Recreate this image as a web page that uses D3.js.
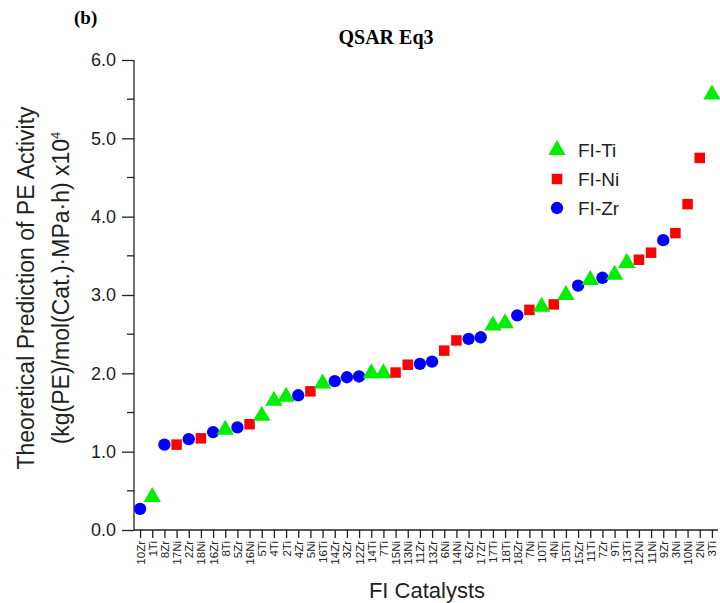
<!DOCTYPE html>
<html>
<head>
<meta charset="utf-8">
<script src="https://cdn.jsdelivr.net/npm/d3@7"></script>
<style>
  body { margin: 0; background: #fff; }
  svg { display: block; }
  .axis text { font-family: "Liberation Sans", Arial, sans-serif; }
</style>
</head>
<body>
<svg width="720" height="603"></svg>
<script>
// catalysts in the order they are plotted (sorted by predicted activity)
var catalysts = ["10Zr","1Ti","8Zr","17Ni","2Zr","18Ni","16Zr","8Ti","5Zr","16Ni",
  "5Ti","4Ti","2Ti","4Zr","5Ni","16Ti","14Zr","3Zr","12Zr","14Ti",
  "7Ti","15Ni","13Ni","11Zr","13Zr","6Ni","14Ni","6Zr","17Zr","17Ti",
  "18Ti","18Zr","7Ni","10Ti","4Ni","15Ti","15Zr","11Ti","7Zr","9Ti",
  "13Ti","12Ni","11Ni","9Zr","3Ni","10Ni","2Ni","3Ti"]

// predicted PE activity (x10^4), same order as catalysts
var activity = [0.27,0.42,1.09,1.09,1.16,1.17,1.25,1.28,1.31,1.35,
  1.46,1.65,1.70,1.72,1.77,1.87,1.90,1.95,1.96,2.00,
  2.00,2.01,2.11,2.12,2.15,2.29,2.42,2.44,2.46,2.61,
  2.64,2.74,2.81,2.85,2.88,3.00,3.12,3.19,3.22,3.26,
  3.41,3.45,3.54,3.70,3.79,4.16,4.75,5.56]

var seriesNames = ["FI-Ti", "FI-Ni", "FI-Zr"]
var seriesKeys = ["Ti", "Ni", "Zr"]
var colors = ["#00ee00", "#ff0000", "#0000ff"]
var yTicks = [0, 1, 2, 3, 4, 5, 6]

var svg = d3.select("svg")

var x = d3.scalePoint()
  .domain(catalysts)
  .range([134, 718])
  .padding(0.5)

var y = d3.scaleLinear()
  .domain([0, 6])
  .range([530, 60])

function metalOf (name) { return name.replace(/[0-9]/g, "") }

var color = d3.scaleOrdinal().domain(seriesKeys).range(colors)
var symbol = d3.scaleOrdinal().domain(seriesKeys)
  .range([d3.symbolTriangle, d3.symbolSquare, d3.symbolCircle])
var symSize = { Ti: 130, Ni: 110, Zr: 120 }

// y axis
var yAxis = svg.append("g")
  .attr("class", "axis")
  .attr("transform", "translate(134,0)")
  .call(d3.axisLeft(y).tickValues(yTicks).tickFormat(d3.format(".1f")).tickSize(12).tickPadding(6))
yAxis.selectAll("text").attr("font-size", 18).attr("fill", "#222")
yAxis.selectAll("line, path").attr("stroke", "#222").attr("stroke-width", 1.3)
yAxis.select(".domain").attr("d", "M0," + y(0) + "V" + y(6))

// minor ticks
svg.append("g")
  .selectAll("line")
  .data(d3.range(0.5, 6, 1))
  .enter().append("line")
    .attr("x1", 134 - 7).attr("x2", 134)
    .attr("y1", function (d) { return y(d) })
    .attr("y2", function (d) { return y(d) })
    .attr("stroke", "#222").attr("stroke-width", 1.3)

// x axis
var xAxis = svg.append("g")
  .attr("class", "axis")
  .attr("transform", "translate(0," + y(0) + ")")
  .call(d3.axisBottom(x).tickSize(8).tickPadding(3))
xAxis.selectAll("line, path").attr("stroke", "#222").attr("stroke-width", 1.3)
xAxis.select(".domain").attr("d", "M134,0H718")
xAxis.selectAll("text")
  .attr("font-size", 11.5)
  .attr("fill", "#222")
  .attr("transform", "rotate(-90)")
  .attr("text-anchor", "end")
  .attr("x", -11)
  .attr("y", 0)
  .attr("dy", "0.35em")

// points
svg.append("g")
  .selectAll("path")
  .data(catalysts)
  .enter().append("path")
    .attr("transform", function (d, i) { return "translate(" + x(d) + "," + y(activity[i]) + ")" })
    .attr("d", function (d) {
      var m = metalOf(d)
      return d3.symbol().type(symbol(m)).size(symSize[m])()
    })
    .attr("fill", function (d) { return color(metalOf(d)) })

// legend
var legend = svg.append("g")
  .attr("transform", "translate(557,150)")

var legendEnter = legend.selectAll("g")
  .data(seriesKeys)
  .enter().append("g")
    .attr("transform", function (d, i) { return "translate(0," + i * 29 + ")" })

legendEnter.append("path")
  .attr("d", function (d) { return d3.symbol().type(symbol(d)).size(symSize[d])() })
  .attr("fill", function (d) { return color(d) })

legendEnter.append("text")
  .attr("x", 21)
  .attr("dy", "0.35em")
  .attr("font-family", "Liberation Sans, Arial, sans-serif")
  .attr("font-size", 19)
  .attr("fill", "#222")
  .text(function (d, i) { return seriesNames[i] })

// titles
svg.append("text")
  .attr("x", 386).attr("y", 44)
  .attr("text-anchor", "middle")
  .attr("font-family", "Liberation Serif, Times New Roman, serif")
  .attr("font-weight", "bold")
  .attr("font-size", 20)
  .text("QSAR Eq3")

svg.append("text")
  .attr("x", 74).attr("y", 24)
  .attr("font-family", "Liberation Serif, Times New Roman, serif")
  .attr("font-weight", "bold")
  .attr("font-size", 19)
  .text("(b)")

svg.append("text")
  .attr("x", 427).attr("y", 598)
  .attr("text-anchor", "middle")
  .attr("font-family", "Liberation Sans, Arial, sans-serif")
  .attr("font-size", 22)
  .attr("fill", "#222")
  .text("FI Catalysts")

var yTitle = svg.append("text")
  .attr("transform", "translate(0,288) rotate(-90)")
  .attr("text-anchor", "middle")
  .attr("font-family", "Liberation Sans, Arial, sans-serif")
  .attr("font-size", 23)
  .attr("fill", "#222")

yTitle.append("tspan")
  .attr("x", 0).attr("y", 34)
  .text("Theoretical Prediction of PE Activity")

var line2 = yTitle.append("tspan")
  .attr("x", 0).attr("y", 69)
line2.append("tspan").text("(kg(PE)/mol(Cat.)·MPa·h) x10")
line2.append("tspan").attr("dy", -9).attr("font-size", 13).text("4")
</script>
</body>
</html>
